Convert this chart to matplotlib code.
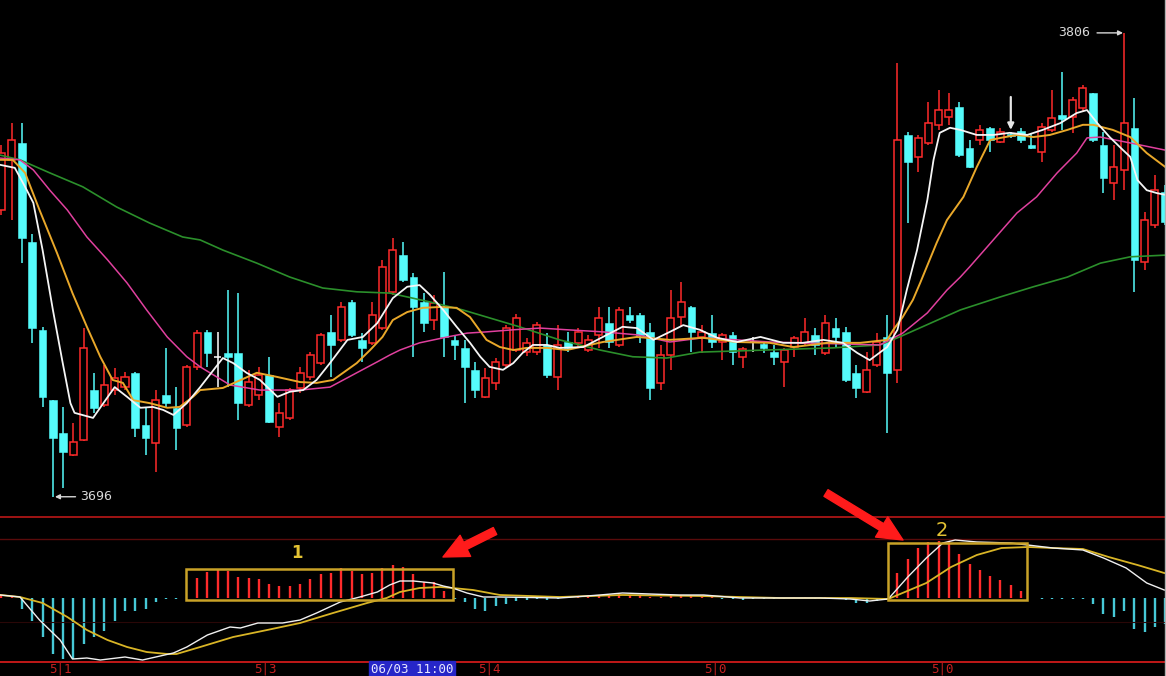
import matplotlib
matplotlib.use("Agg")
import matplotlib.pyplot as plt
from matplotlib.patches import Rectangle
from matplotlib.lines import Line2D

# ---- candle data (index 0..113), prices ----
opens = [
    3764.0, 3775.9, 3779.9, 3756.4, 3735.6, 3718.9, 3711.1, 3705.9, 3709.5, 3721.3,
    3717.8, 3721.3, 3722.0, 3725.4, 3713.0, 3708.8, 3720.1, 3717.1, 3713.0, 3726.8,
    3735.1, 3729.2, 3730.1, 3730.1, 3717.8, 3720.1, 3724.9, 3712.6, 3714.7, 3721.8,
    3724.4, 3727.7, 3735.1, 3733.2, 3742.2, 3733.2, 3732.5, 3736.0, 3744.6, 3753.3,
    3748.1, 3742.2, 3737.9, 3741.0, 3733.2, 3731.3, 3726.1, 3719.7, 3723.0, 3727.3,
    3730.8, 3730.3, 3730.3, 3732.0, 3724.4, 3732.7, 3732.5, 3730.8, 3734.4, 3737.2,
    3732.0, 3739.1, 3739.1, 3735.1, 3723.0, 3729.6, 3738.6, 3741.0, 3733.9, 3734.8,
    3732.7, 3734.4, 3729.2, 3732.7, 3732.2, 3730.3, 3728.0, 3731.5, 3732.5, 3734.4,
    3730.1, 3736.0, 3735.1, 3725.4, 3720.9, 3727.3, 3733.9, 3726.1, 3781.8, 3776.6,
    3779.9, 3784.2, 3786.1, 3788.4, 3778.7, 3780.6, 3783.5, 3780.1, 3782.0, 3782.7,
    3779.4, 3777.8, 3783.0, 3786.5, 3786.1, 3788.2, 3791.7, 3779.4, 3770.4, 3773.5,
    3783.5, 3751.7, 3760.5, 3768.3,
]
highs = [
    3779.4, 3784.6, 3784.6, 3758.3, 3736.3, 3718.9, 3717.3, 3713.5, 3736.0, 3725.4,
    3727.3, 3726.5, 3725.6, 3725.6, 3717.1, 3721.3, 3731.3, 3722.0, 3727.3, 3735.6,
    3735.6, 3735.1, 3745.0, 3744.3, 3726.1, 3726.8, 3729.2, 3718.2, 3721.8, 3726.8,
    3730.3, 3734.8, 3739.1, 3742.2, 3742.7, 3734.8, 3742.2, 3752.2, 3757.4, 3756.4,
    3749.1, 3744.3, 3743.9, 3749.3, 3734.4, 3733.2, 3728.0, 3726.5, 3728.9, 3736.7,
    3739.4, 3733.7, 3737.5, 3734.8, 3736.7, 3735.1, 3736.0, 3734.4, 3741.0, 3741.0,
    3741.0, 3741.0, 3739.6, 3737.2, 3732.0, 3745.0, 3746.9, 3741.2, 3736.7, 3739.1,
    3734.8, 3735.1, 3731.5, 3733.9, 3732.5, 3732.0, 3731.3, 3734.1, 3738.4, 3736.0,
    3739.1, 3738.4, 3736.3, 3727.3, 3730.3, 3734.8, 3739.1, 3798.9, 3782.5, 3781.8,
    3789.6, 3792.5, 3791.7, 3789.6, 3780.6, 3784.2, 3783.7, 3783.5, 3782.5, 3783.5,
    3782.3, 3784.6, 3792.5, 3796.7, 3790.8, 3793.6, 3791.7, 3782.5, 3779.4, 3806.0,
    3790.6, 3763.5, 3772.3, 3770.0,
]
lows = [
    3762.8, 3761.6, 3751.4, 3732.5, 3717.3, 3696.0, 3698.1, 3705.7, 3709.2, 3715.9,
    3717.3, 3720.1, 3721.3, 3710.2, 3705.9, 3701.9, 3717.3, 3707.1, 3712.6, 3726.1,
    3726.8, 3722.0, 3722.0, 3714.2, 3717.3, 3718.9, 3713.5, 3710.2, 3714.2, 3720.6,
    3723.7, 3727.3, 3724.4, 3732.7, 3733.9, 3728.0, 3732.0, 3735.6, 3743.9, 3746.9,
    3729.2, 3735.1, 3735.6, 3729.2, 3728.4, 3718.2, 3719.4, 3719.4, 3721.3, 3726.8,
    3730.3, 3729.4, 3729.6, 3724.2, 3721.3, 3730.3, 3731.3, 3730.3, 3731.3, 3731.3,
    3731.5, 3737.2, 3732.5, 3718.9, 3721.3, 3726.1, 3736.3, 3730.3, 3730.1, 3731.3,
    3728.4, 3727.3, 3726.5, 3730.3, 3730.1, 3727.3, 3722.0, 3729.2, 3732.0, 3729.6,
    3729.6, 3731.5, 3723.2, 3719.4, 3720.6, 3726.8, 3711.1, 3723.0, 3760.9, 3773.0,
    3779.4, 3783.0, 3784.2, 3776.6, 3774.0, 3779.4, 3777.8, 3779.9, 3781.0, 3779.9,
    3778.5, 3775.4, 3782.5, 3783.0, 3782.3, 3787.2, 3780.1, 3768.0, 3766.4, 3768.7,
    3744.6, 3749.8, 3759.7, 3760.5,
]
closes = [
    3777.5, 3780.6, 3757.4, 3736.0, 3719.7, 3710.0, 3706.6, 3709.0, 3731.3, 3717.1,
    3722.5, 3724.2, 3724.4, 3712.3, 3710.0, 3718.9, 3718.2, 3712.3, 3726.8, 3734.8,
    3730.1, 3729.2, 3729.2, 3718.2, 3723.2, 3724.9, 3713.7, 3715.9, 3721.3, 3725.4,
    3729.6, 3734.4, 3732.0, 3741.0, 3734.4, 3731.3, 3739.1, 3750.5, 3754.5, 3747.4,
    3741.0, 3737.2, 3742.0, 3733.9, 3732.0, 3726.8, 3721.3, 3724.2, 3728.0, 3736.0,
    3738.4, 3732.5, 3736.7, 3724.9, 3732.0, 3731.3, 3735.1, 3733.2, 3738.4, 3732.7,
    3740.3, 3737.9, 3734.4, 3721.8, 3729.6, 3738.4, 3742.2, 3735.1, 3735.1, 3732.7,
    3734.4, 3730.3, 3731.1, 3732.7, 3731.3, 3729.2, 3730.8, 3733.7, 3735.1, 3732.0,
    3737.2, 3733.9, 3723.7, 3721.8, 3726.1, 3732.7, 3725.4, 3780.6, 3775.4, 3781.1,
    3784.6, 3787.7, 3787.7, 3777.0, 3774.2, 3783.0, 3780.6, 3782.5, 3781.5, 3780.6,
    3778.7, 3783.7, 3785.8, 3785.6, 3790.1, 3792.9, 3780.6, 3771.6, 3774.2, 3784.6,
    3752.2, 3761.6, 3768.7, 3761.2,
]

# ---- moving averages, (candle index, price) ----
ma5_pts = [
    (-0.1, 3774.7), (1.3, 3774.0), (2.3, 3769.5), (3.1, 3765.7), (4.0, 3754.5), (5.0, 3740.3),
    (5.9, 3728.4), (6.7, 3718.2), (7.1, 3715.9), (8.9, 3714.7), (9.9, 3718.2), (11.0, 3722.0),
    (12.2, 3719.7), (13.5, 3717.1), (14.7, 3717.3), (15.7, 3716.6), (16.7, 3715.4), (18.0, 3718.2),
    (19.3, 3722.0), (21.5, 3728.9), (22.5, 3727.7), (23.8, 3725.4), (25.1, 3723.7), (26.8, 3719.7),
    (28.0, 3720.9), (29.3, 3721.3), (30.6, 3723.7), (31.9, 3727.7), (33.6, 3733.2), (35.1, 3733.9),
    (36.5, 3737.2), (38.0, 3743.1), (39.4, 3745.8), (40.6, 3746.2), (41.6, 3743.9), (42.9, 3740.3),
    (44.2, 3736.3), (45.5, 3732.5), (46.5, 3729.2), (47.4, 3726.8), (48.7, 3726.1), (49.7, 3727.7),
    (50.6, 3730.1), (51.6, 3732.0), (53.0, 3732.0), (54.2, 3731.3), (56.5, 3731.5), (58.4, 3733.9),
    (60.3, 3736.3), (61.7, 3736.0), (63.3, 3733.2), (64.9, 3735.1), (66.2, 3736.7), (67.8, 3735.6),
    (69.5, 3733.7), (71.4, 3732.7), (73.7, 3733.9), (75.9, 3732.5), (77.8, 3732.5), (79.8, 3733.2),
    (81.7, 3732.5), (83.1, 3730.1), (84.3, 3728.4), (86.0, 3731.5), (87.0, 3735.6), (87.9, 3745.0),
    (88.9, 3754.5), (89.9, 3766.4), (90.5, 3775.9), (91.1, 3782.3), (92.1, 3783.5), (93.1, 3783.0),
    (94.7, 3781.8), (96.3, 3781.8), (97.9, 3782.3), (99.6, 3781.8), (101.1, 3783.0), (102.8, 3784.6),
    (104.4, 3787.0), (105.4, 3787.7), (106.4, 3784.6), (107.6, 3781.3), (108.9, 3778.2), (109.6, 3776.6),
    (110.3, 3771.1), (111.2, 3768.7), (112.2, 3768.0), (113.0, 3767.6),
]
ma10_pts = [
    (-0.1, 3775.9), (1.1, 3775.9), (2.3, 3772.8), (3.7, 3764.0), (5.4, 3753.8), (6.9, 3744.3),
    (8.3, 3736.3), (9.6, 3729.2), (10.8, 3723.7), (11.8, 3723.0), (12.8, 3718.9), (14.4, 3718.2),
    (16.1, 3717.1), (17.3, 3717.3), (18.6, 3719.7), (19.3, 3721.3), (21.5, 3721.8), (24.8, 3725.4),
    (26.8, 3724.4), (29.0, 3723.2), (30.6, 3723.0), (32.2, 3723.7), (34.5, 3727.7), (35.8, 3730.8),
    (37.0, 3733.9), (38.0, 3737.9), (39.4, 3739.8), (40.9, 3740.8), (42.6, 3741.0), (44.2, 3740.8),
    (45.5, 3738.6), (47.1, 3733.2), (48.4, 3731.5), (49.7, 3730.8), (51.0, 3731.3), (53.0, 3731.3),
    (54.9, 3730.8), (58.4, 3732.7), (61.7, 3733.9), (64.9, 3733.2), (68.1, 3733.7), (71.4, 3732.7),
    (74.6, 3732.5), (76.9, 3731.5), (80.2, 3732.5), (83.4, 3732.5), (86.0, 3733.2), (86.6, 3735.6),
    (87.5, 3738.6), (88.5, 3742.7), (89.2, 3746.7), (90.8, 3756.2), (91.8, 3761.6), (93.4, 3767.1),
    (94.7, 3774.2), (96.0, 3780.6), (97.0, 3781.1), (98.6, 3781.8), (100.2, 3781.3), (101.8, 3781.8),
    (103.5, 3783.0), (105.0, 3784.2), (106.0, 3784.2), (107.9, 3783.0), (109.6, 3781.3), (111.2, 3777.5),
    (113.0, 3774.2),
]
ma20_pts = [
    (-0.1, 3776.3), (1.8, 3775.9), (3.1, 3773.5), (4.7, 3768.7), (6.4, 3764.0), (8.3, 3757.6),
    (10.3, 3752.2), (12.2, 3746.7), (14.1, 3740.3), (16.1, 3733.9), (18.0, 3729.2), (19.3, 3726.8),
    (22.2, 3722.5), (25.1, 3721.3), (29.0, 3721.3), (31.9, 3722.0), (34.5, 3725.4), (36.5, 3728.0),
    (37.7, 3729.6), (38.7, 3730.8), (40.6, 3732.5), (43.3, 3733.9), (45.2, 3734.8), (47.1, 3735.1),
    (49.7, 3735.6), (52.3, 3736.0), (54.9, 3735.6), (58.4, 3735.1), (61.7, 3734.4), (64.9, 3732.7),
    (68.1, 3733.7), (71.4, 3733.2), (74.6, 3732.7), (77.5, 3732.5), (85.3, 3732.0), (87.5, 3734.8),
    (89.9, 3739.6), (91.8, 3745.0), (93.1, 3748.1), (94.0, 3750.5), (96.3, 3756.9), (98.6, 3763.3),
    (100.5, 3767.1), (102.5, 3772.8), (104.4, 3777.5), (105.4, 3781.1), (106.7, 3781.3), (109.6, 3779.9),
    (113.0, 3778.2),
]
ma60_pts = [
    (-0.1, 3777.0), (1.8, 3775.9), (4.7, 3772.8), (7.9, 3769.5), (11.2, 3764.7), (14.4, 3760.9),
    (17.6, 3757.6), (19.3, 3756.9), (21.5, 3754.5), (24.8, 3751.4), (28.0, 3748.1), (31.2, 3745.5),
    (34.5, 3744.6), (37.7, 3744.3), (41.6, 3742.2), (44.8, 3740.3), (48.1, 3737.9), (50.3, 3736.3),
    (54.2, 3733.2), (58.1, 3730.8), (61.3, 3729.2), (64.6, 3728.9), (67.8, 3730.3), (74.3, 3730.8),
    (80.7, 3731.3), (85.3, 3732.0), (87.2, 3733.9), (93.1, 3740.3), (97.0, 3743.4), (100.2, 3745.8),
    (103.5, 3748.1), (106.7, 3751.4), (109.6, 3752.9), (113.0, 3753.3),
]

# ---- MACD panel ----
macd_hist = [
    0.2, 0.1,
    -1.1, -2.3, -3.9, -5.6, -6.1, -6.1, -4.6, -3.9, -3.3, -2.3, -1.3, -1.3, -1.1, -0.4, -0.1, -0.1,
    0.0,
    2.0, 2.6, 2.8, 2.7, 2.1, 2.0, 1.9, 1.4, 1.2, 1.2, 1.4, 1.9, 2.4, 2.5, 3.0, 2.7, 2.4, 2.5,
    3.0, 3.3, 3.1, 2.4, 1.6, 1.6, 0.7,
    -0.1, -0.4, -1.1, -1.3, -0.8,
    -0.6, -0.3, -0.2, -0.1, -0.2, -0.1, 0.1, 0.1, 0.2, 0.2, 0.3, 0.4, 0.3, 0.2, 0.1, 0.1, 0.2,
    0.2, 0.2, 0.1, 0.1, -0.1, -0.1, -0.2, -0.1, -0.1, -0.1, -0.1, 0.1, 0.1, -0.1, 0.1, -0.1,
    -0.2, -0.5, -0.5, -0.3, -0.2,
    2.5, 3.9, 5.0, 5.6, 5.7, 5.7, 4.4, 3.4, 2.8, 2.2, 1.8, 1.3, 0.7,
    0.0, -0.1, -0.1, -0.1, -0.1,
    -0.1,
    -0.6, -1.6, -1.9, -1.3, -3.1, -3.4, -2.9, -2.6,
]
dif_pts = [
    (-0.1, 0.3), (1.8, 0.1), (3.7, -2.2), (5.7, -4.2), (6.9, -6.1), (8.3, -6.0), (9.6, -6.2),
    (12.0, -5.9), (13.7, -6.2), (16.7, -5.5), (18.0, -4.9), (20.0, -3.7), (22.2, -2.9), (23.2, -3.0),
    (24.9, -2.5), (27.3, -2.5), (29.0, -2.2), (30.6, -1.5), (32.9, -0.4), (34.8, 0.1), (36.5, 0.6),
    (37.7, 1.3), (38.7, 1.7), (40.0, 1.7), (41.9, 1.5), (42.9, 1.2), (43.8, 1.0), (45.2, 0.5),
    (46.8, 0.1), (48.4, 0.1), (54.2, 0.0), (58.1, 0.3), (60.3, 0.5), (63.0, 0.4), (65.8, 0.3),
    (68.2, 0.3), (71.7, 0.0), (75.6, 0.0), (79.5, 0.0), (82.4, -0.1), (84.3, -0.3), (86.1, -0.1),
    (88.0, 2.1), (89.8, 4.0), (91.4, 5.5), (92.6, 5.8), (94.7, 5.6), (98.0, 5.5), (102.1, 5.0),
    (105.0, 4.8), (107.0, 4.0), (109.2, 3.0), (111.2, 1.5), (112.9, 0.8),
]
dea_pts = [
    (-0.1, 0.3), (1.8, 0.1), (4.0, -0.5), (6.4, -1.9), (8.3, -3.2), (10.3, -4.2), (12.2, -4.9),
    (14.1, -5.4), (16.1, -5.6), (17.0, -5.6), (19.3, -4.9), (22.5, -3.9), (25.8, -3.2), (29.0, -2.5),
    (32.2, -1.5), (35.5, -0.5), (37.4, 0.0), (38.7, 0.6), (40.6, 1.0), (42.6, 1.1), (43.8, 1.0),
    (45.8, 0.8), (48.4, 0.3), (54.2, 0.1), (60.3, 0.3), (67.8, 0.2), (75.6, 0.0), (82.4, 0.0),
    (86.1, -0.1), (89.8, 1.5), (92.2, 3.1), (94.7, 4.3), (97.1, 5.0), (99.7, 5.1), (102.1, 5.0),
    (105.0, 4.9), (107.5, 4.1), (110.3, 3.3), (112.9, 2.5),
]

date_labels = ["5|1", "5|3", "5|4", "5|0", "5|0"]
date_label_idx = [5.7, 25.6, 47.4, 69.3, 91.4]
cursor_label = "06/03 11:00"

n = len(opens)
assert n == len(highs) == len(lows) == len(closes) == len(macd_hist)

UP = "#ff2b2b"
DOWN = "#55fbfb"
BG = "black"

fig = plt.figure(figsize=(11.66, 6.76), dpi=100, facecolor=BG)
ax = fig.add_axes([0, 159 / 676, 1, 517 / 676], facecolor=BG)
ax2 = fig.add_axes([0, 14 / 676, 1, 145 / 676], facecolor=BG)

xlim = (-0.136, 113.07)

# candles: hollow red for up, solid cyan for down, white cross for flat
for i, (o, h, l, c) in enumerate(zip(opens, highs, lows, closes)):
    if c > o:
        ax.vlines(i, c, h, color=UP, lw=1.1, zorder=2)
        ax.vlines(i, l, o, color=UP, lw=1.1, zorder=2)
        ax.add_patch(Rectangle((i - 0.34, o), 0.68, c - o, fc=BG, ec=UP, lw=1.1, zorder=2))
    elif c < o:
        ax.vlines(i, l, h, color=DOWN, lw=1.1, zorder=2)
        ax.add_patch(Rectangle((i - 0.37, c), 0.74, o - c, fc=DOWN, ec=DOWN, lw=0.4, zorder=2))
    else:
        ax.vlines(i, l, h, color="white", lw=1.1, zorder=2)
        ax.hlines(o, i - 0.36, i + 0.36, color="white", lw=1.1, zorder=2)

# moving averages
for pts, col, lw in [(ma60_pts, "#2b8f2b", 1.2), (ma20_pts, "#e0409e", 1.1),
                     (ma10_pts, "#e9a82a", 1.4), (ma5_pts, "#f5f5f5", 1.3)]:
    ax.plot([p[0] for p in pts], [p[1] for p in pts], color=col, lw=lw, zorder=3)

ax.set_xlim(*xlim)
ax.set_ylim(3691.2, 3813.8)
ax.axis("off")

# high / low markers
ax.annotate("3696", xy=(5.2, 3696.0), xytext=(7.6, 3696.0), color="#d8d8d8",
            fontsize=9.5, family="DejaVu Sans Mono", ha="left", va="center",
            arrowprops=dict(arrowstyle="-|>", color="#d8d8d8", lw=1, mutation_scale=7,
                            shrinkA=1, shrinkB=0))
ax.annotate("3806", xy=(108.9, 3806.0), xytext=(105.7, 3806.0), color="#d8d8d8",
            fontsize=9.5, family="DejaVu Sans Mono", ha="right", va="center",
            arrowprops=dict(arrowstyle="-|>", color="#d8d8d8", lw=1, mutation_scale=7,
                            shrinkA=3, shrinkB=0))
ax.annotate("", xy=(98, 3783.0), xytext=(98, 3790.8),
            arrowprops=dict(arrowstyle="-|>", color="#e6e6e6", lw=1.6, mutation_scale=9,
                            shrinkA=0, shrinkB=0))

# MACD histogram and lines
bar_cols = [UP if v > 0 else "#46c8d6" for v in macd_hist]
ax2.vlines(range(n), 0, macd_hist, colors=bar_cols, lw=1.7, zorder=2)
ax2.plot([p[0] for p in dea_pts], [p[1] for p in dea_pts], color="#d9b526", lw=1.3, zorder=3)
ax2.plot([p[0] for p in dif_pts], [p[1] for p in dif_pts], color="#f0f0f0", lw=1.0, zorder=3)

ax2.axhline(5.9, color="#5a0b0b", lw=1.0)
ax2.axhline(-2.4, color="#2a0707", lw=0.8)
ax2.set_xlim(*xlim)
ax2.set_ylim(-6.4, 8.1)
ax2.set_xticks([])
ax2.set_yticks([])
for side in ["left", "right"]:
    ax2.spines[side].set_visible(False)
ax2.spines["top"].set_color("#a01414")
ax2.spines["top"].set_linewidth(1.4)
ax2.spines["bottom"].set_color("#c01818")
ax2.spines["bottom"].set_linewidth(1.4)

# highlight boxes
box_col = "#c9a227"
ax2.add_patch(Rectangle((17.9, -0.2), 43.8 - 17.9, 3.1, fill=False, ec=box_col, lw=1.8, zorder=4))
ax2.add_patch(Rectangle((86.1, -0.2), 99.6 - 86.1, 5.7, fill=False, ec=box_col, lw=1.8, zorder=4))
ax2.text(28.7, 4.5, "1", color="#e3c233", fontsize=12, fontweight="bold", ha="center", va="center")
ax2.text(91.3, 6.8, "2", color="#e3c233", fontsize=14, ha="center", va="center")

# red pointer arrows
arrow_style = "simple,head_length=0.9,head_width=0.85,tail_width=0.28"
for tail, head in [((495, 145), (443, 119)), ((826, 183), (903, 136))]:
    ax2.annotate("", xy=head, xycoords="figure pixels", xytext=tail, textcoords="figure pixels",
                 arrowprops=dict(arrowstyle=arrow_style, fc="#ff1b1b", ec="#ff1b1b",
                                 mutation_scale=20, shrinkA=0, shrinkB=0),
                 annotation_clip=False)

# date axis labels under the MACD panel
for lab, xi in zip(date_labels, date_label_idx):
    px = 1.4 + 10.3 * xi
    fig.text(px / 1166, 1 - 669 / 676, lab, color="#c42020", fontsize=9,
             family="DejaVu Sans Mono", ha="center", va="center")
fig.text(412 / 1166, 1 - 669 / 676, cursor_label, color="#e8e8ff", fontsize=9,
         family="DejaVu Sans Mono", ha="center", va="center",
         bbox=dict(boxstyle="square,pad=0.12", fc="#2626c8", ec="#2626c8"))

# thin frame on the right edge
fig.add_artist(Line2D([1165 / 1166] * 2, [0, 1], color="#b0b0b0", lw=1, transform=fig.transFigure))

fig.savefig("out.png", dpi=100, facecolor=BG)
